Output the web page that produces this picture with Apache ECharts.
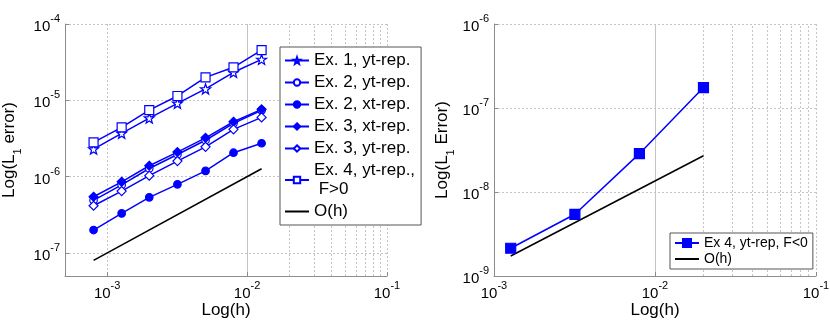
<!DOCTYPE html>
<html>
<head>
<meta charset="utf-8">
<script src="https://cdn.jsdelivr.net/npm/echarts@6/dist/echarts.min.js"></script>
<style>
html, body { margin: 0; padding: 0; background: #fff; }
#chart { width: 830px; height: 322px; }
</style>
</head>
<body>
<div id="chart"></div>
<script>
// mesh sizes h
var hLeft = [0.0008, 0.00127, 0.002, 0.00318, 0.00505, 0.008, 0.0127];
var hRight = [0.00127, 0.00318, 0.008, 0.02];

// L1 errors, left panel
var ex1Yt = [2.30e-6, 3.70e-6, 5.86e-6, 9.14e-6, 1.41e-5, 2.33e-5, 3.44e-5];
var ex2Yt = [4.9e-7, 7.8e-7, 1.28e-6, 1.95e-6, 3.0e-6, 5.0e-6, 7.4e-6];
var ex2Xt = [2.0e-7, 3.30e-7, 5.36e-7, 7.93e-7, 1.19e-6, 2.06e-6, 2.74e-6];
var ex3Xt = [5.46e-7, 8.57e-7, 1.39e-6, 2.10e-6, 3.23e-6, 5.24e-6, 7.62e-6];
var ex3Yt = [4.16e-7, 6.48e-7, 1.03e-6, 1.60e-6, 2.46e-6, 4.17e-6, 5.98e-6];
var ex4Yt = [2.82e-6, 4.43e-6, 7.46e-6, 1.14e-5, 2.0e-5, 2.71e-5, 4.56e-5];
var ohLeftX = [0.0008, 0.0127];
var ohLeft = [8.0e-8, 1.27e-6];

// right panel
var ex4Neg = [2.14e-9, 5.43e-9, 2.86e-8, 1.75e-7];
var ohRightX = [0.00127, 0.02];
var ohRight = [1.73e-9, 2.70e-8];

// minor grid positions (2..9 of each decade)
var minorXLeft = [6e-4, 7e-4, 8e-4, 9e-4, 2e-3, 3e-3, 4e-3, 5e-3, 6e-3, 7e-3, 8e-3, 9e-3,
                  2e-2, 3e-2, 4e-2, 5e-2, 6e-2, 7e-2, 8e-2, 9e-2];
var minorYLeft = [6e-8, 7e-8, 8e-8, 9e-8, 2e-7, 3e-7, 4e-7, 5e-7, 6e-7, 7e-7, 8e-7, 9e-7,
                  2e-6, 3e-6, 4e-6, 5e-6, 6e-6, 7e-6, 8e-6, 9e-6,
                  2e-5, 3e-5, 4e-5, 5e-5, 6e-5, 7e-5, 8e-5, 9e-5];
var minorXRight = [2e-3, 3e-3, 4e-3, 5e-3, 6e-3, 7e-3, 8e-3, 9e-3,
                   2e-2, 3e-2, 4e-2, 5e-2, 6e-2, 7e-2, 8e-2, 9e-2];
var minorYRight = [2e-9, 3e-9, 4e-9, 5e-9, 6e-9, 7e-9, 8e-9, 9e-9,
                   2e-8, 3e-8, 4e-8, 5e-8, 6e-8, 7e-8, 8e-8, 9e-8,
                   2e-7, 3e-7, 4e-7, 5e-7, 6e-7, 7e-7, 8e-7, 9e-7];

var blue = '#0000ff';
var gridColor = '#c4c4c4';
var gridDash = [2, 2];
var starPath = 'path://M0,-10L2.35,-3.24L9.51,-3.09L3.8,1.24L5.88,8.09L0,4.2L-5.88,8.09L-3.8,1.24L-9.51,-3.09L-2.35,-3.24Z';

function pairs(xs, ys) {
    var out = [];
    for (var i = 0; i < xs.length; i++) out.push([xs[i], ys[i]]);
    return out;
}

function powLabel(v) {
    var l = Math.log(v) / Math.LN10;
    var e = Math.round(l);
    if (Math.abs(l - e) > 0.01) return '';
    return '{b|10}{s|' + e + '}';
}

var labelRich = {
    b: { fontSize: 15, color: '#000', verticalAlign: 'bottom', padding: [6, 0, 0, 0] },
    s: { fontSize: 11, color: '#000', verticalAlign: 'top' }
};
var nameRich = {
    n: { fontSize: 17, color: '#000', verticalAlign: 'top', padding: [0, 0, 5, 0] },
    sub: { fontSize: 11, color: '#000', verticalAlign: 'bottom' }
};

function logAxis(gi, min, max, name, isY, gap) {
    return {
        type: 'log',
        logBase: 10,
        gridIndex: gi,
        min: min,
        max: max,
        name: name,
        nameLocation: 'middle',
        nameGap: gap,
        nameMoveOverlap: false,
        nameTextStyle: { fontSize: 17, color: '#000', rich: nameRich },
        axisLine: { show: true, lineStyle: { color: '#8c8c8c', width: 1 } },
        axisTick: { show: true, inside: true, length: 4, lineStyle: { color: '#8c8c8c' } },
        axisLabel: {
            formatter: powLabel,
            showMinLabel: !(min === 5e-4 || min === 5e-8),
            margin: isY ? 5 : 4,
            rich: labelRich
        },
        splitLine: { show: true, lineStyle: { type: gridDash, color: gridColor, width: 1 } }
    };
}

function gridLines(xi, xs, ys) {
    var d = [];
    xs.forEach(function (v) { d.push({ xAxis: v }); });
    ys.forEach(function (v) { d.push({ yAxis: v }); });
    return {
        type: 'line',
        name: 'grid' + xi,
        xAxisIndex: xi,
        yAxisIndex: xi,
        data: [],
        z: 0,
        silent: true,
        markLine: {
            silent: true,
            z: 0,
            symbol: ['none', 'none'],
            label: { show: false },
            emphasis: { disabled: true },
            animation: false,
            lineStyle: { type: gridDash, color: gridColor, width: 1 },
            data: d
        }
    };
}

function dataSeries(name, xs, ys, symbol, size, fill, xi) {
    return {
        type: 'line',
        name: name,
        xAxisIndex: xi,
        yAxisIndex: xi,
        data: pairs(xs, ys),
        symbol: symbol,
        symbolSize: size,
        showAllSymbol: true,
        z: 3,
        lineStyle: { color: blue, width: 1.5 },
        itemStyle: { color: fill, borderColor: blue, borderWidth: 1.2 }
    };
}

var noSymbol = { opacity: 0 };

var chart = echarts.init(document.getElementById('chart'));

var option = {
    animation: false,
    backgroundColor: '#fff',
    textStyle: { fontFamily: 'Liberation Sans, Arial, sans-serif' },
    grid: [
        { left: 65, top: 24, width: 322, height: 252, outerBoundsMode: 'none', containLabel: false },
        { left: 494, top: 24, width: 322, height: 252, outerBoundsMode: 'none', containLabel: false }
    ],
    xAxis: [
        logAxis(0, 5e-4, 1e-1, 'Log(h)', false, 26),
        logAxis(1, 1e-3, 1e-1, 'Log(h)', false, 26)
    ],
    yAxis: [
        logAxis(0, 5e-8, 1e-4, '{n|Log(L}{sub|1}{n| error)}', true, 42),
        logAxis(1, 1e-9, 1e-6, '{n|Log(L}{sub|1}{n| Error)}', true, 38)
    ],
    legend: [
        {
            orient: 'vertical',
            left: 280,
            top: 47,
            width: 130,
            padding: [4, 6, 4, 4],
            itemWidth: 24,
            itemHeight: 8,
            itemGap: 3,
            backgroundColor: '#fff',
            borderColor: '#555',
            borderWidth: 1,
            borderRadius: 0,
            textStyle: { fontSize: 17, color: '#000', lineHeight: 19 },
            data: ['Ex. 1, yt-rep.', 'Ex. 2, yt-rep.', 'Ex. 2, xt-rep.', 'Ex. 3, xt-rep.',
                   'Ex. 3, yt-rep.', 'Ex. 4, yt-rep.,\n F>0', { name: 'O(h)', itemStyle: noSymbol }]
        },
        {
            orient: 'vertical',
            left: 670,
            top: 233,
            padding: [3, 5, 3, 4],
            itemWidth: 24,
            itemHeight: 10,
            itemGap: 2,
            backgroundColor: '#fff',
            borderColor: '#555',
            borderWidth: 1,
            borderRadius: 0,
            textStyle: { fontSize: 14, color: '#000' },
            data: ['Ex 4, yt-rep, F<0', { name: 'O(h)', itemStyle: noSymbol }]
        }
    ],
    series: [
        gridLines(0, minorXLeft, minorYLeft),
        gridLines(1, minorXRight, minorYRight),
        dataSeries('Ex. 1, yt-rep.', hLeft, ex1Yt, starPath, 10, '#fff', 0),
        dataSeries('Ex. 2, yt-rep.', hLeft, ex2Yt, 'circle', 7.5, '#fff', 0),
        dataSeries('Ex. 2, xt-rep.', hLeft, ex2Xt, 'circle', 7.5, blue, 0),
        dataSeries('Ex. 3, xt-rep.', hLeft, ex3Xt, 'diamond', 9, blue, 0),
        dataSeries('Ex. 3, yt-rep.', hLeft, ex3Yt, 'diamond', 9, '#fff', 0),
        dataSeries('Ex. 4, yt-rep.,\n F>0', hLeft, ex4Yt, 'rect', 9, '#fff', 0),
        {
            type: 'line', name: 'O(h)', xAxisIndex: 0, yAxisIndex: 0,
            data: pairs(ohLeftX, ohLeft), symbol: 'none', z: 2,
            lineStyle: { color: '#000', width: 1.5 }, itemStyle: { color: '#000' }
        },
        dataSeries('Ex 4, yt-rep, F<0', hRight, ex4Neg, 'rect', 10, blue, 1),
        {
            type: 'line', name: 'O(h)', xAxisIndex: 1, yAxisIndex: 1,
            data: pairs(ohRightX, ohRight), symbol: 'none', z: 2,
            lineStyle: { color: '#000', width: 1.5 }, itemStyle: { color: '#000' }
        }
    ]
};

chart.setOption(option);
</script>
</body>
</html>
